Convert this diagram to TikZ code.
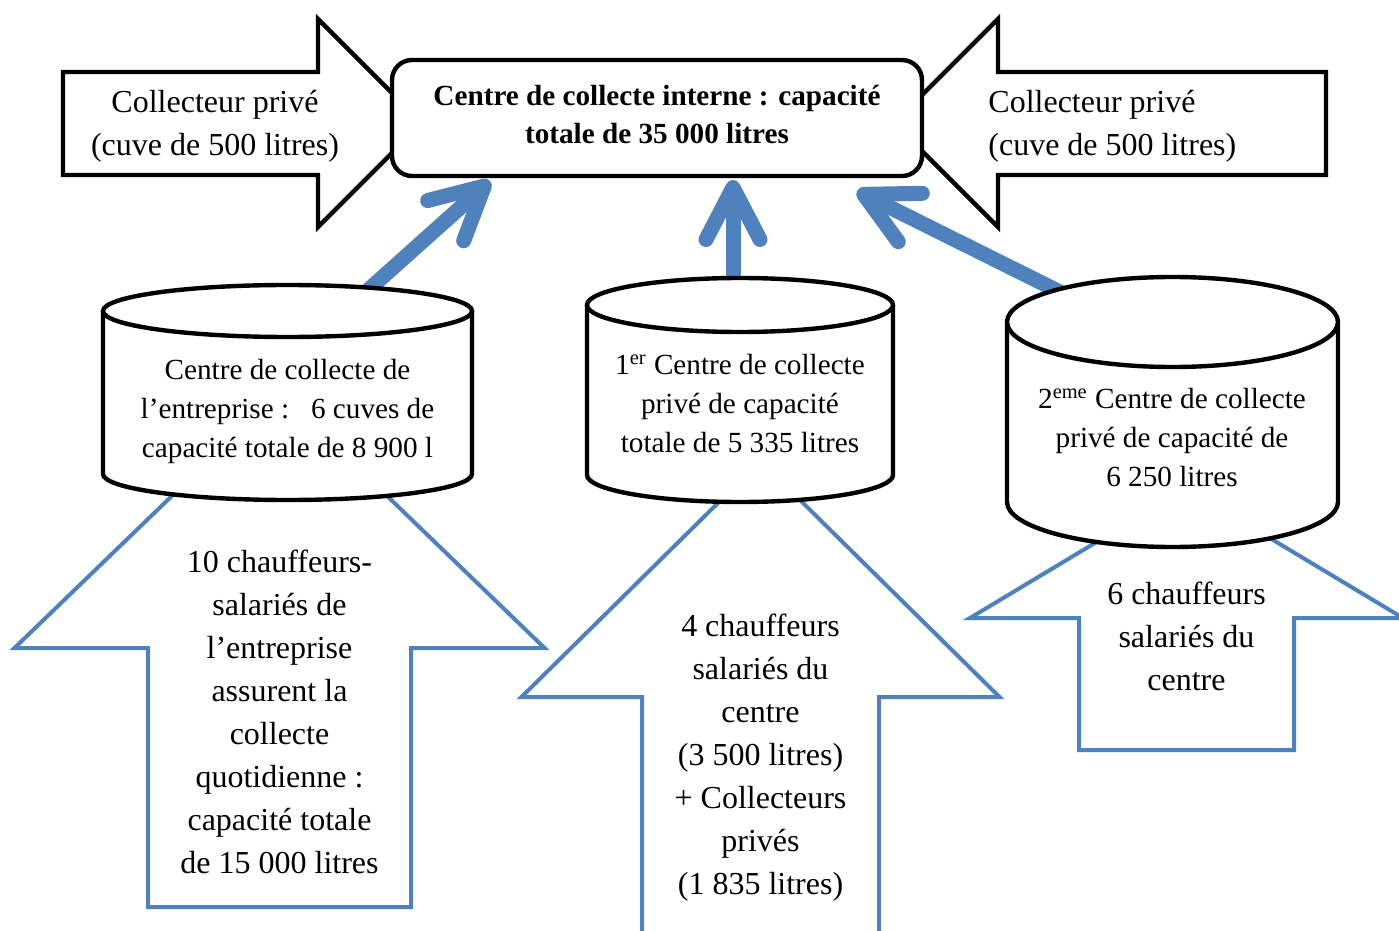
\documentclass[tikz,border=0pt]{standalone}
\usepackage{fontspec}
\setmainfont{Liberation Serif}
\usetikzlibrary{arrows.meta}

\definecolor{flowblue}{RGB}{79,129,189}

\begin{document}
\begin{tikzpicture}[x=0.5pt, y=-0.5pt,
    inarrow/.style={draw, line width=2.2pt, fill=white, line join=miter},
    hub/.style={draw, line width=2.2pt, fill=white, rounded corners=10pt, minimum width=265pt, minimum height=58pt, inner sep=0pt, align=center, font=\fontsize{14.6}{19}\selectfont\bfseries},
    tank/.style={draw, line width=2.2pt, fill=white},
    blockup/.style={draw=flowblue, line width=2pt, fill=white, line join=miter},
    flow/.style={draw=flowblue, line width=7.5pt, -{Straight Barb[length=26pt, width=27pt, round]}},
    txt/.style={font=\fontsize{16}{21.5}\selectfont, align=center, inner sep=0pt},
    tanktxt/.style={font=\fontsize{14.6}{19.5}\selectfont, align=center, inner sep=0pt}
]
\fill[white] (0,0) rectangle (1399,931);
\useasboundingbox (0,0) rectangle (1399,931);

% upward block arrows (drivers) -- cx/half shaft/half head/tip/shoulder/bottom
\foreach \cx/\hs/\hh/\tip/\sh/\bot in {279.5/131.5/265/392/648/907, 760.5/118.5/239/461/697/960, 1186.5/107.5/216.5/488/618/750} {
    \draw[blockup] (\cx,\tip) -- (\cx+\hh,\sh) -- (\cx+\hs,\sh) -- (\cx+\hs,\bot)
        -- (\cx-\hs,\bot) -- (\cx-\hs,\sh) -- (\cx-\hh,\sh) -- cycle;
}
\node[txt] (drvA) at (279.5,712) {10 chauffeurs-\\salariés de\\l’entreprise\\assurent la\\collecte\\quotidienne :\\capacité totale\\de 15 000 litres};
\node[txt] (drvB) at (760.5,758) {4 chauffeurs\\salariés du\\centre\\(3 500 litres)\\+ Collecteurs\\privés\\(1 835 litres)};
\node[txt] (drvC) at (1186.5,636) {6 chauffeurs\\salariés du\\centre};

% thick flows into the internal centre
\coordinate (tankA-out) at (357,300);
\coordinate (tankB-out) at (733,292);
\coordinate (tankC-out) at (1070,297);
\coordinate (hub-sw) at (490,181);
\coordinate (hub-s) at (733,180);
\coordinate (hub-se) at (857,191);
\draw[flow] (tankA-out) -- (hub-sw);
\draw[flow] (tankB-out) -- (hub-s);
\draw[flow] (tankC-out) -- (hub-se);

% private collectors on both sides
\draw[inarrow] (63,72) -- (318,72) -- (318,19) -- (422,123) -- (318,227) -- (318,175) -- (63,175) -- cycle;
\draw[inarrow] (1326,72) -- (998,72) -- (998,19) -- (894,123) -- (998,227) -- (998,175) -- (1326,175) -- cycle;
\node[txt] (privL) at (215,126) {Collecteur privé\\(cuve de 500 litres)};
\node[txt, anchor=west, align=left] (privR) at (988,126) {Collecteur privé\\(cuve de 500 litres)};

% internal centre
\node[hub] (hub) at (657,118) {Centre de collecte interne : capacité\\totale de 35 000 litres\vphantom{g}};

% storage tanks -- cx/rx/ry/top/bottom
\foreach \cx/\rx/\ry/\yt/\yb in {287.5/184.5/26/311/474, 740/153/27/305/475, 1172.5/165.5/45/322/502} {
    \draw[tank] (\cx-\rx,\yt) -- (\cx-\rx,\yb) arc[start angle=180, end angle=0, x radius=\rx, y radius=\ry] -- (\cx+\rx,\yt);
    \draw[tank] (\cx,\yt) ellipse[x radius=\rx, y radius=\ry];
}
\node[tanktxt] (tankA) at (287.5,411) {Centre de collecte de\\l’entreprise :\ \ \ 6 cuves de\\capacité totale de 8 900 l};
\node[tanktxt] (tankB) at (740,404) {1\textsuperscript{er} Centre de collecte\\privé de capacité\\totale de 5 335 litres};
\node[tanktxt] (tankC) at (1172,438) {2\textsuperscript{eme} Centre de collecte\\privé de capacité de\\6 250 litres};

\end{tikzpicture}
\end{document}
